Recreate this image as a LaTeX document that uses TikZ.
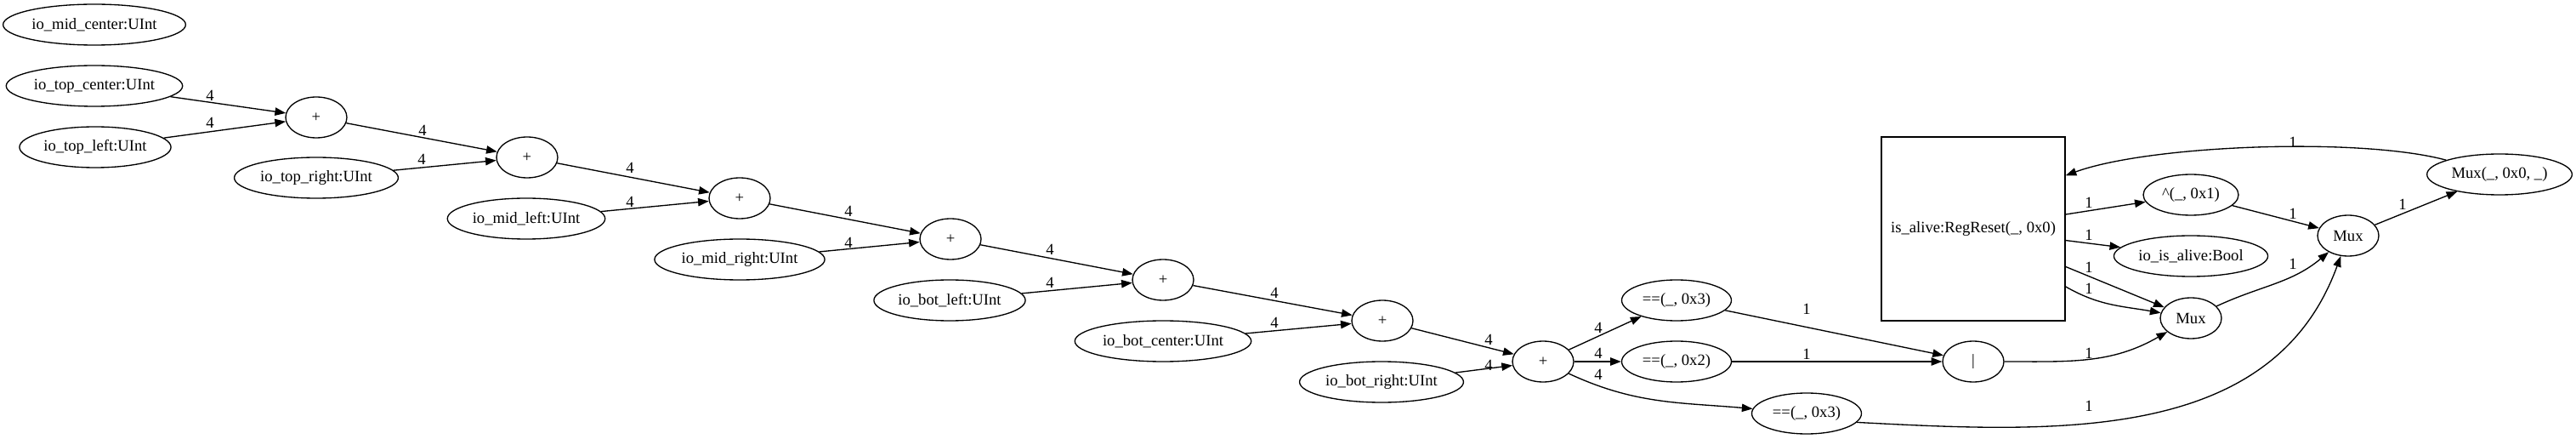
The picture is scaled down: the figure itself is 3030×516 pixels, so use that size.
\documentclass[tikz,border=0pt]{standalone}
\usepackage{fontspec}
\setmainfont{Liberation Serif}
\usetikzlibrary{arrows.meta, positioning, shapes.geometric}

\begin{document}
\begin{tikzpicture}[
    x=0.75pt, y=0.75pt,
    every node/.style={font=\fontsize{14}{16}\selectfont},
    sig_node/.style={
        ellipse,
        draw,
        line width=1pt,
        inner xsep=1.75pt,
        inner ysep=1pt,
        minimum width=54pt,
        minimum height=36pt
    },
    reg_node/.style={
        rectangle,
        draw,
        line width=1pt,
        minimum width=162pt,
        minimum height=162pt
    },
    wire/.style={line width=1pt, -{Triangle[length=9.5pt,width=7pt]}},
    wlabel/.style={inner sep=0pt}
]
\useasboundingbox (0,0) rectangle (3030,-516);

% inputs
\node[sig_node] (midc) at (111,-29) {io\_mid\_center:UInt};
\node[sig_node] (topc) at (111,-101) {io\_top\_center:UInt};
\node[sig_node] (topl) at (112,-173) {io\_top\_left:UInt};
\node[sig_node] (topr) at (372,-209) {io\_top\_right:UInt};
\node[sig_node] (midl) at (619,-257) {io\_mid\_left:UInt};
\node[sig_node] (midr) at (870,-305) {io\_mid\_right:UInt};
\node[sig_node] (botl) at (1117,-353) {io\_bot\_left:UInt};
\node[sig_node] (botc) at (1368,-401) {io\_bot\_center:UInt};
\node[sig_node] (botr) at (1625,-449) {io\_bot\_right:UInt};

% adder chain
\node[sig_node] (add1) at (372,-138) {+};
\node[sig_node] (add2) at (620,-185) {+};
\node[sig_node] (add3) at (870,-233) {+};
\node[sig_node] (add4) at (1118,-281) {+};
\node[sig_node] (add5) at (1368,-329) {+};
\node[sig_node] (add6) at (1626,-377) {+};
\node[sig_node] (add7) at (1815,-425) {+};

% compare + state
\node[sig_node, minimum width=96.75pt] (eq_a) at (1972,-353) {==(\_, 0x3)};
\node[sig_node, minimum width=96.75pt] (eq_b) at (1972,-425) {==(\_, 0x2)};
\node[sig_node, minimum width=96.75pt] (eq_c) at (2125,-486) {==(\_, 0x3)};
\node[reg_node] (alive) at (2321,-269) {is\_alive:RegReset(\_, 0x0)};
\node[sig_node] (orop) at (2321,-425) {\textbar};
\node[sig_node, minimum width=84pt] (xorop) at (2577,-229) {\textasciicircum(\_, 0x1)};
\node[sig_node] (alive_out) at (2577,-301) {io\_is\_alive:Bool};
\node[sig_node] (mux_lo) at (2577,-374) {Mux};
\node[sig_node] (mux_hi) at (2762,-277) {Mux};
\node[sig_node, minimum width=128pt] (mux_rst) at (2940,-205) {Mux(\_, 0x0, \_)};

\draw[wire] (topc) -- (add1) node[wlabel] at (247,-112) {4};
\draw[wire] (topl) -- (add1) node[wlabel] at (247,-144) {4};
\draw[wire] (add1) -- (add2) node[wlabel] at (497,-153) {4};
\draw[wire] (topr) -- (add2) node[wlabel] at (496,-187) {4};
\draw[wire] (add2) -- (add3) node[wlabel] at (741,-197) {4};
\draw[wire] (midl) -- (add3) node[wlabel] at (741,-237) {4};
\draw[wire] (add3) -- (add4) node[wlabel] at (998,-248) {4};
\draw[wire] (midr) -- (add4) node[wlabel] at (998,-285) {4};
\draw[wire] (add4) -- (add5) node[wlabel] at (1235,-293) {4};
\draw[wire] (botl) -- (add5) node[wlabel] at (1235,-332) {4};
\draw[wire] (add5) -- (add6) node[wlabel] at (1499,-344) {4};
\draw[wire] (botc) -- (add6) node[wlabel] at (1499,-379) {4};
\draw[wire] (add6) -- (add7) node[wlabel] at (1751,-399) {4};
\draw[wire] (botr) -- (add7) node[wlabel] at (1751,-429) {4};

\draw[wire] (add7) -- (eq_a) node[wlabel] at (1880,-385) {4};
\draw[wire] (add7) -- (eq_b) node[wlabel] at (1880,-415) {4};
\draw[wire] (add7) to[out=-25, in=175] (eq_c) node[wlabel] at (1880,-440) {4};
\draw[wire] (eq_a) -- (orop) node[wlabel] at (2125,-363) {1};
\draw[wire] (eq_b) -- (orop) node[wlabel] at (2125,-416) {1};
\draw[wire] (eq_c.-10) to[out=-3, in=-110] (mux_hi) node[wlabel] at (2457,-477) {1};
\draw[wire] (orop) to[out=0, in=-150] (mux_lo) node[wlabel] at (2457,-415) {1};

\draw[wire] (alive) -- (xorop) node[wlabel] at (2457,-238) {1};
\draw[wire] (alive) -- (alive_out) node[wlabel] at (2457,-276) {1};
\draw[wire] (alive) -- (mux_lo) node[wlabel] at (2457,-314) {1};
\draw[wire] (alive.-32) to[out=-30, in=170] (mux_lo) node[wlabel] at (2457,-339) {1};
\draw[wire] (xorop) -- (mux_hi) node[wlabel] at (2697,-251) {1};
\draw[wire] (mux_lo) to[out=25, in=-140] (mux_hi) node[wlabel] at (2697,-310) {1};
\draw[wire] (mux_hi) -- (mux_rst) node[wlabel] at (2826,-240) {1};
\draw[wire] (mux_rst) to[out=165, in=20, looseness=0.6] (alive.30) node[wlabel] at (2697,-167) {1};

\end{tikzpicture}
\end{document}
